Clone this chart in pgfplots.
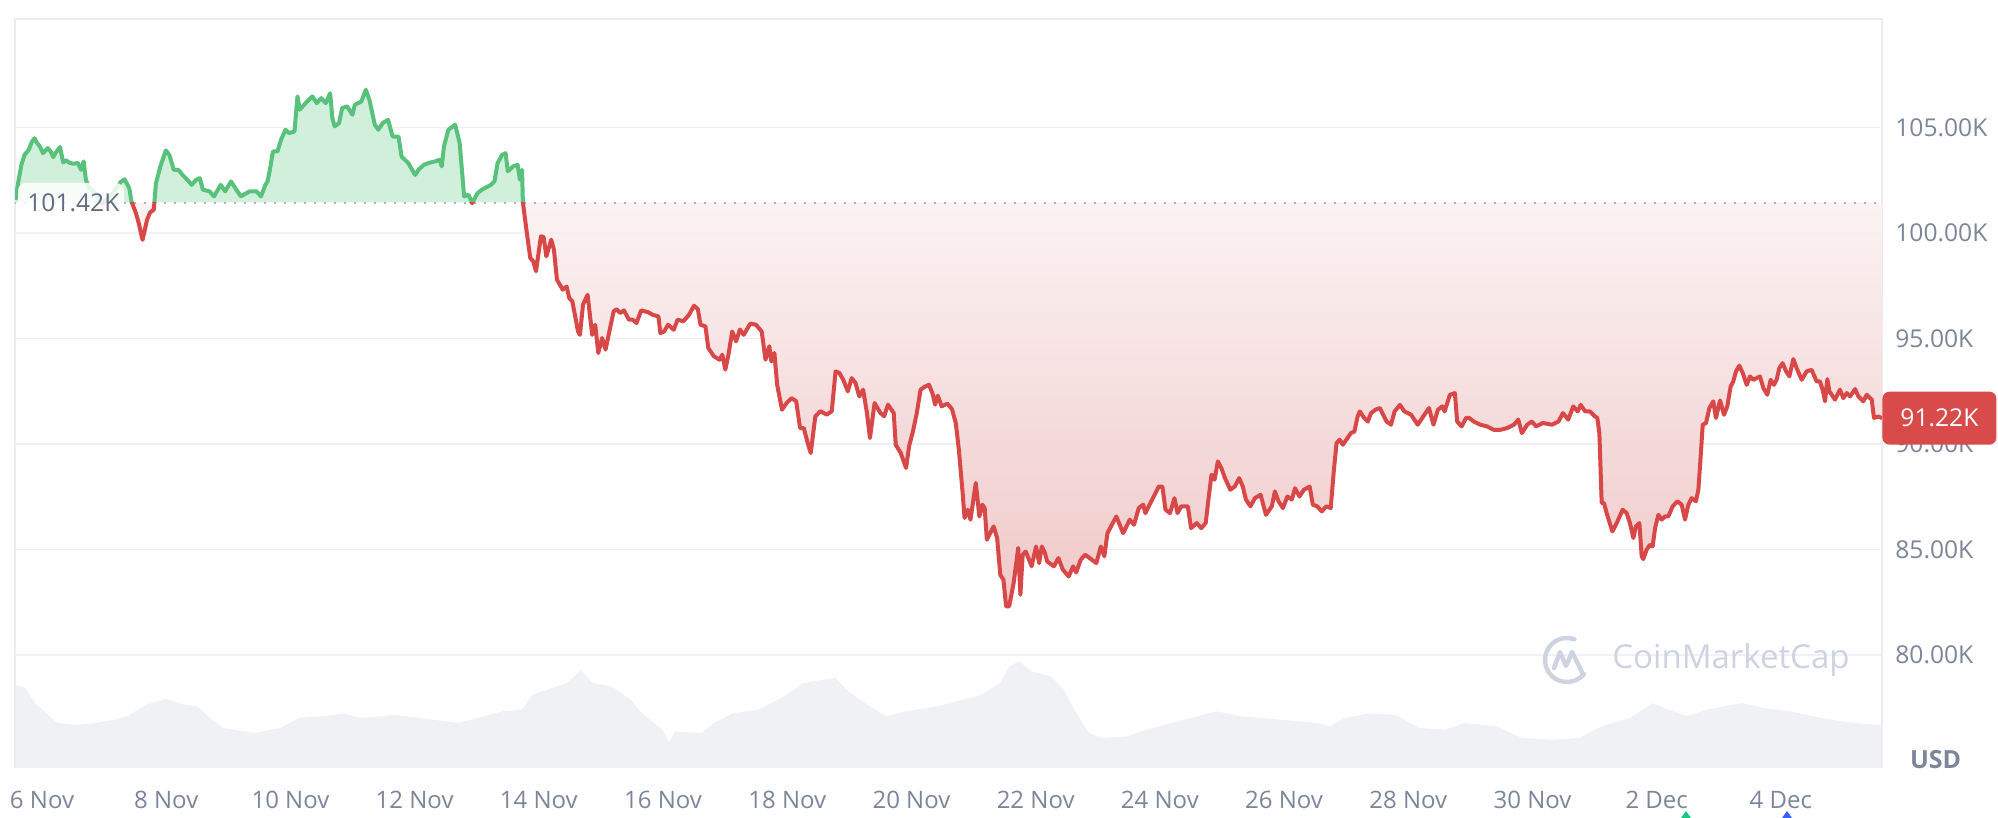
\documentclass[border=0pt]{standalone}
\usepackage{pgfplots}
\pgfplotsset{compat=1.18}
\usepackage{pgfplotstable}
\usepackage{fontspec}
\setmainfont{Open Sans}
\definecolor{tickgray}{RGB}{124,134,153}
\definecolor{darkgray}{RGB}{96,108,130}
\definecolor{gridc}{RGB}{239,241,244}
\definecolor{framec}{RGB}{234,236,240}
\definecolor{volgray}{RGB}{240,241,244}
\definecolor{greenline}{RGB}{88,194,124}
\definecolor{greenfill}{RGB}{209,240,219}
\definecolor{redline}{RGB}{217,72,72}
\definecolor{redbot}{RGB}{240,198,198}
\definecolor{badgec}{RGB}{217,75,75}
\definecolor{wmc}{RGB}{205,211,225}
\definecolor{dotc}{RGB}{150,156,168}
\definecolor{mkgreen}{RGB}{22,199,132}
\definecolor{mkblue}{RGB}{56,97,251}

\pgfplotstableread{
x y
-0.425 101.57
-0.386 102.36
-0.332 103.23
-0.279 103.71
-0.213 103.94
-0.168 104.29
-0.121 104.49
-0.086 104.29
-0.035 104.10
0.016 103.78
0.094 104.02
0.140 103.86
0.181 103.59
0.222 103.80
0.289 104.07
0.341 103.34
0.386 103.44
0.447 103.32
0.505 103.28
0.577 103.31
0.628 102.99
0.671 103.39
0.706 102.52
0.755 102.17
0.858 101.87
0.960 101.39
1.063 101.63
1.166 101.99
1.268 102.42
1.330 102.54
1.404 102.13
1.441 101.49
1.512 100.94
1.556 100.48
1.619 99.67
1.691 100.62
1.740 100.97
1.800 101.10
1.835 102.36
1.906 103.15
1.993 103.91
2.050 103.70
2.122 102.99
2.196 102.99
2.253 102.78
2.339 102.52
2.411 102.28
2.483 102.52
2.540 102.60
2.590 102.05
2.698 101.97
2.770 101.73
2.877 102.28
2.949 101.97
3.043 102.44
3.129 102.05
3.201 101.73
3.345 101.97
3.454 101.97
3.526 101.73
3.597 102.28
3.632 102.44
3.669 102.99
3.718 103.86
3.792 103.86
3.848 104.41
3.920 104.89
3.979 104.73
4.065 104.81
4.114 106.47
4.151 105.84
4.244 106.15
4.353 106.47
4.424 106.15
4.496 106.39
4.568 106.15
4.640 106.62
4.675 105.44
4.712 105.05
4.784 105.21
4.833 105.92
4.913 106.00
4.999 105.60
5.036 106.07
5.143 106.23
5.214 106.79
5.272 106.31
5.358 105.13
5.415 104.89
5.487 105.21
5.573 105.36
5.645 104.57
5.740 104.57
5.789 103.62
5.898 103.31
6.007 102.75
6.070 103.02
6.150 103.23
6.222 103.31
6.329 103.39
6.401 103.47
6.437 103.15
6.472 104.10
6.544 104.89
6.653 105.13
6.725 104.26
6.797 101.73
6.868 101.81
6.926 101.41
7.012 101.88
7.084 102.05
7.228 102.28
7.285 102.44
7.336 103.31
7.408 103.70
7.465 103.78
7.500 102.92
7.586 103.15
7.658 103.23
7.695 102.52
7.730 102.99
7.743 101.46
7.800 100.15
7.862 98.81
7.911 98.65
7.954 98.18
8.034 99.84
8.077 99.81
8.120 98.89
8.200 99.68
8.243 99.20
8.292 97.78
8.385 97.31
8.447 97.46
8.490 96.91
8.539 96.76
8.631 95.33
8.662 95.17
8.711 96.60
8.785 97.07
8.859 95.17
8.908 95.65
8.957 94.31
9.019 95.02
9.074 94.47
9.124 95.17
9.204 96.28
9.253 96.39
9.308 96.20
9.370 96.33
9.450 95.89
9.512 95.89
9.573 95.73
9.647 96.33
9.760 96.24
9.834 96.12
9.926 96.04
9.957 95.25
10.018 95.33
10.080 95.65
10.172 95.41
10.234 95.89
10.326 95.81
10.418 96.12
10.498 96.55
10.560 96.39
10.603 95.65
10.683 95.57
10.728 94.55
10.819 94.15
10.911 93.99
10.954 94.23
11.003 93.52
11.053 94.23
11.114 95.33
11.176 94.86
11.237 95.42
11.299 95.17
11.404 95.70
11.496 95.65
11.588 95.33
11.650 93.99
11.711 94.63
11.744 93.91
11.793 94.31
11.837 92.81
11.916 91.62
11.990 91.94
12.070 92.17
12.144 92.02
12.206 90.75
12.267 90.75
12.329 90.04
12.378 89.57
12.452 91.30
12.532 91.55
12.637 91.39
12.717 91.55
12.778 93.44
12.840 93.36
12.901 93.04
12.975 92.49
13.037 93.12
13.099 92.89
13.160 92.25
13.222 92.57
13.283 91.47
13.332 90.28
13.406 91.94
13.499 91.47
13.560 91.31
13.622 91.86
13.714 91.47
13.747 89.96
13.827 89.57
13.913 88.86
13.962 89.89
14.024 90.60
14.086 91.47
14.147 92.57
14.209 92.70
14.283 92.81
14.344 92.34
14.381 91.86
14.424 92.29
14.486 91.78
14.578 91.91
14.652 91.65
14.714 90.99
14.763 89.73
14.824 87.68
14.855 86.49
14.906 86.88
14.950 86.41
15.036 88.15
15.093 86.56
15.142 87.12
15.179 86.96
15.214 85.46
15.323 86.09
15.380 85.54
15.430 83.80
15.481 83.56
15.524 82.30
15.573 82.30
15.645 83.41
15.719 85.07
15.754 82.85
15.791 84.75
15.840 84.90
15.935 84.20
16.006 85.14
16.056 84.35
16.099 85.14
16.150 84.82
16.185 84.43
16.294 84.20
16.366 84.59
16.437 84.04
16.532 83.72
16.603 84.20
16.653 83.91
16.725 84.51
16.796 84.75
16.868 84.59
16.977 84.35
17.049 85.14
17.106 84.67
17.156 85.77
17.227 86.17
17.299 86.56
17.408 85.77
17.515 86.41
17.584 86.17
17.660 86.96
17.732 87.12
17.767 86.72
17.876 87.36
17.983 87.98
18.040 87.98
18.091 86.88
18.163 86.72
18.235 87.43
18.284 86.72
18.342 87.04
18.450 87.04
18.502 86.01
18.594 86.25
18.666 86.01
18.738 86.25
18.775 87.20
18.832 88.54
18.881 88.30
18.933 89.17
18.990 88.85
19.048 88.38
19.134 87.83
19.206 87.98
19.277 88.38
19.335 87.98
19.386 87.36
19.458 87.04
19.530 87.43
19.622 87.59
19.708 86.64
19.803 87.04
19.852 87.75
19.910 87.28
19.981 86.96
20.053 87.51
20.125 87.36
20.176 87.90
20.248 87.51
20.320 87.83
20.412 87.98
20.463 87.12
20.535 87.04
20.607 86.80
20.679 87.04
20.751 86.96
20.802 88.77
20.845 90.04
20.895 90.20
20.946 89.96
21.003 90.20
21.075 90.51
21.132 90.59
21.184 91.30
21.219 91.54
21.291 91.23
21.348 91.06
21.400 91.46
21.471 91.62
21.543 91.70
21.650 91.06
21.722 90.91
21.779 91.54
21.865 91.85
21.937 91.54
22.046 91.38
22.152 90.91
22.224 91.23
22.333 91.70
22.405 90.91
22.477 91.62
22.548 91.78
22.585 91.54
22.671 92.33
22.750 92.41
22.787 91.06
22.858 90.83
22.930 91.23
22.982 91.23
23.053 91.06
23.160 90.91
23.269 90.83
23.375 90.67
23.484 90.67
23.591 90.75
23.700 90.91
23.771 91.15
23.829 90.51
23.915 90.91
23.987 91.06
24.059 90.83
24.167 90.99
24.313 90.91
24.418 91.06
24.490 91.46
24.576 91.15
24.656 91.78
24.728 91.54
24.777 91.85
24.847 91.54
24.925 91.54
25.007 91.30
25.044 91.23
25.077 90.51
25.114 87.20
25.151 87.20
25.194 86.72
25.286 85.85
25.356 86.25
25.452 86.88
25.516 86.72
25.569 86.25
25.624 85.54
25.666 86.09
25.721 86.25
25.758 84.67
25.784 84.54
25.838 84.99
25.891 85.22
25.934 85.14
25.974 86.01
26.027 86.64
26.080 86.41
26.134 86.56
26.187 86.56
26.257 87.04
26.333 87.28
26.402 87.12
26.456 86.41
26.509 87.12
26.562 87.43
26.632 87.28
26.671 87.83
26.708 89.41
26.741 90.91
26.794 90.99
26.848 91.70
26.911 92.02
26.954 91.23
27.020 92.06
27.083 91.38
27.137 91.78
27.190 92.72
27.233 92.96
27.277 93.44
27.330 93.71
27.385 93.36
27.449 92.80
27.502 93.20
27.556 93.04
27.662 93.20
27.718 92.64
27.781 92.33
27.835 93.04
27.888 92.80
27.931 93.04
27.974 93.59
28.027 93.83
28.083 93.44
28.136 93.20
28.200 94.02
28.253 93.59
28.335 93.04
28.415 93.44
28.495 93.51
28.575 92.96
28.628 92.96
28.672 92.57
28.711 92.02
28.748 93.07
28.780 92.49
28.871 92.10
28.951 92.57
29.005 92.17
29.060 92.41
29.114 92.25
29.194 92.60
29.247 92.25
29.327 92.02
29.382 92.33
29.462 92.10
29.499 91.23
29.569 91.30
29.628 91.22
}\price

\pgfplotstableread{
x v
-0.435 85.0
-0.271 81.6
-0.117 66.3
0.037 57.9
0.242 45.9
0.550 44.2
0.858 45.9
1.166 49.4
1.371 52.7
1.679 64.6
1.986 70.3
2.294 64.6
2.499 62.9
2.705 51.0
2.910 40.8
3.423 35.8
3.833 40.8
4.141 51.0
4.449 52.7
4.859 55.4
5.167 51.0
5.680 54.3
6.091 51.0
6.501 47.6
6.706 45.9
7.117 52.7
7.425 57.9
7.732 59.5
7.897 74.8
8.143 80.0
8.451 86.7
8.677 99.6
8.862 86.7
9.170 83.3
9.477 69.7
9.683 54.3
9.990 39.1
10.103 25.5
10.185 37.4
10.616 35.8
10.821 45.9
11.129 56.0
11.541 59.5
11.952 73.1
12.259 86.7
12.567 90.1
12.774 91.8
12.980 78.3
13.287 64.6
13.595 52.7
13.903 57.9
14.416 62.9
14.828 69.7
15.136 74.8
15.423 86.7
15.577 103.7
15.731 108.8
15.937 98.5
16.244 93.5
16.450 80.0
16.653 56.2
16.858 35.8
17.064 30.6
17.474 32.2
17.782 39.1
18.192 45.9
18.500 51.0
18.908 57.9
19.319 52.7
19.934 49.3
20.548 45.9
20.753 42.5
20.958 51.0
21.369 55.4
21.779 54.3
22.189 40.8
22.600 39.1
22.905 45.9
23.418 42.5
23.829 30.6
24.342 28.9
24.752 30.6
25.110 42.5
25.571 51.0
25.930 66.3
26.187 59.5
26.495 52.7
26.800 59.5
27.365 66.3
27.724 61.2
28.134 57.9
28.645 51.0
29.158 45.9
29.548 44.2
29.628 44.2
}\volume

\begin{document}
\begin{tikzpicture}[x=1pt,y=1pt]
\path[use as bounding box] (0,0) rectangle (999,409);
\fill[white] (0,0) rectangle (999,409);

% volume (background)
\begin{axis}[at={(7.5pt,25pt)}, anchor=south west, scale only axis,
  width=933.5pt, height=374.5pt,
  xmin=-0.435, xmax=29.628, ymin=0, ymax=764.4,
  axis lines=none]
\addplot[fill=volgray, draw=none] table[x=x, y=v] {\volume} \closedcycle;
\end{axis}

% frame
\draw[framec, line width=0.75pt] (7.5,25) -- (7.5,399.5) -- (941,399.5) -- (941,25);

\begin{axis}[at={(7.5pt,25pt)}, anchor=south west, scale only axis,
  width=933.5pt, height=374.5pt,
  xmin=-0.435, xmax=29.628, ymin=74.64, ymax=110.14,
  axis line style={draw=none}, tick style={draw=none}, major tick length=0pt,
  ytick={80,85,90,95,100,105},
  yticklabels={80.00K,85.00K,90.00K,95.00K,100.00K,105.00K},
  yticklabel pos=right,
  yticklabel style={anchor=west, inner sep=0pt, xshift=6.5pt,
    font=\fontsize{12.3}{13}\selectfont, text=tickgray},
  xtick={0,2,...,28},
  xticklabels={6 Nov,8 Nov,10 Nov,12 Nov,14 Nov,16 Nov,18 Nov,20 Nov,22 Nov,24 Nov,26 Nov,28 Nov,30 Nov,2 Dec,4 Dec},
  xticklabel style={anchor=center, inner sep=0pt, yshift=-16pt,
    font=\fontsize{12}{13}\selectfont, text=tickgray},
  ymajorgrids, grid style={gridc, line width=0.7pt},
]
% green area
\begin{scope}
\clip (axis cs:-1,101.42) rectangle (axis cs:31,115);
\addplot[draw=none, fill=greenfill] table[x=x,y=y] {\price}
  -- (axis cs:29.628,101.42) -- (axis cs:-0.425,101.42) -- cycle;
\end{scope}
% red area
\begin{scope}
\clip (axis cs:-1,101.42) rectangle (axis cs:31,70);
\addplot[draw=none, top color=white, bottom color=redbot, fill opacity=0.95] table[x=x,y=y] {\price}
  -- (axis cs:29.628,101.42) -- (axis cs:-0.425,101.42) -- cycle;
\end{scope}
% baseline
\draw[dotc, line width=1.1pt, line cap=round, dash pattern=on 0pt off 5pt]
  (axis cs:-0.435,101.42) -- (axis cs:29.628,101.42);
% price line
\begin{scope}
\clip (axis cs:-1,101.42) rectangle (axis cs:31,115);
\addplot[greenline, line width=2pt, line join=round] table[x=x,y=y] {\price};
\end{scope}
\begin{scope}
\clip (axis cs:-1,101.42) rectangle (axis cs:31,70);
\addplot[redline, line width=2pt, line join=round] table[x=x,y=y] {\price};
\end{scope}
\coordinate (last) at (axis cs:29.628,91.22);
\end{axis}

% open price label
\fill[white, fill opacity=0.85, rounded corners=4pt] (9,297.5) rectangle (62,317.5);
\node[anchor=west, inner sep=0pt, text=darkgray, font=\fontsize{12.3}{13}\selectfont] at (13.5,307.5) {101.42K};

% current price badge
\node[anchor=west, fill=badgec, text=white, rounded corners=3.5pt, minimum width=57pt,
  minimum height=26.5pt, inner sep=0pt, font=\fontsize{12.3}{13}\selectfont] at (last) {91.22K};

% USD
\node[text=tickgray, font=\fontsize{12.5}{13}\selectfont\bfseries] at (967.8,29.2) {USD};

% watermark
\draw[wmc, line width=2.2pt, line cap=round] (783.5,79) ++(-40:11) arc[start angle=-40, end angle=-290, radius=11];
\draw[wmc, line width=2.2pt, line cap=round, line join=round]
  (777,75) -- (780,83) -- (783,76) -- (786,83) -- (789,77) -- (791.5,72);
\node[anchor=west, text=wmc, inner sep=0pt, font=\fontsize{16.5}{17}\selectfont] at (806,79) {CoinMarketCap};

% event markers at the bottom
\fill[mkgreen] (840.5,0) -- (845.5,0) -- (843,3.5) -- cycle;
\fill[mkblue] (891,0) -- (896,0) -- (893.5,3.5) -- cycle;
\end{tikzpicture}
\end{document}
